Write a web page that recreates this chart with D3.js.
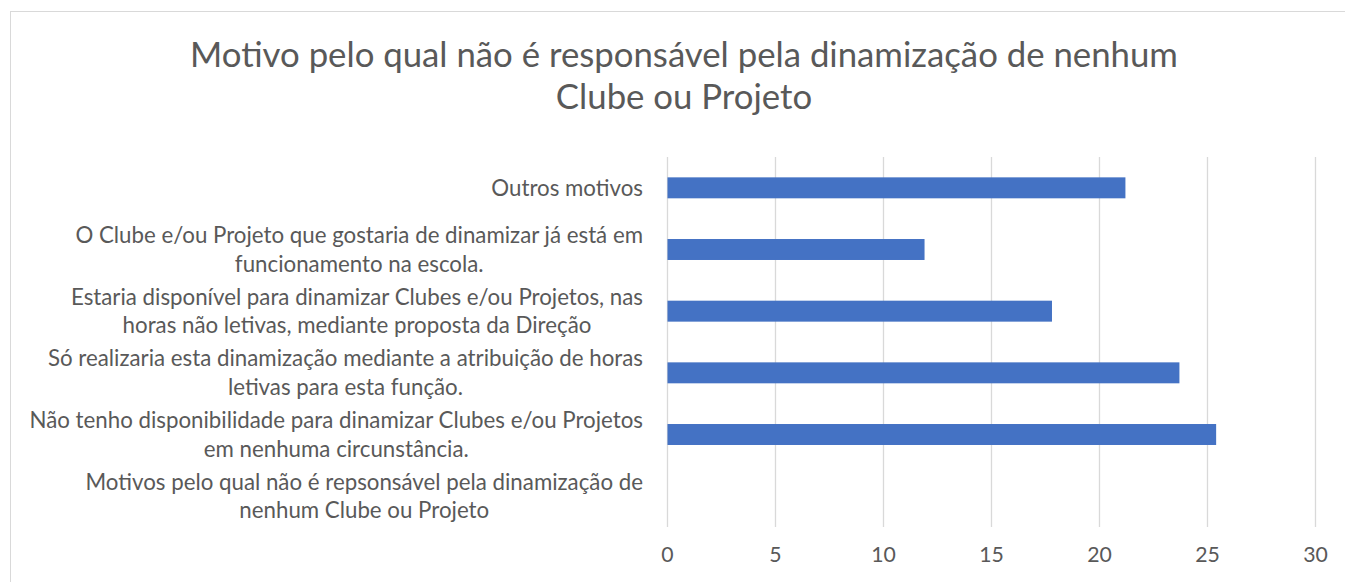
<!DOCTYPE html>
<html><head><meta charset="utf-8">
<script src="https://cdn.jsdelivr.net/npm/d3@7"></script>
<style>html,body{margin:0;padding:0;background:#fff;overflow:hidden}</style>
</head><body>
<svg id="c" width="1345" height="582"></svg>
<script>
const titleLines = ["Motivo pelo qual não é responsável pela dinamização de nenhum", "Clube ou Projeto"];
const categories = [
  ["Outros motivos"],
  ["O Clube e/ou Projeto que gostaria de dinamizar já está em", "funcionamento na escola."],
  ["Estaria disponível para dinamizar Clubes e/ou Projetos, nas", "horas não letivas, mediante proposta da Direção"],
  ["Só realizaria esta dinamização mediante a atribuição de horas", "letivas para esta função."],
  ["Não tenho disponibilidade para dinamizar Clubes e/ou Projetos", "em nenhuma circunstância."],
  ["Motivos pelo qual não é repsonsável pela dinamização de", "nenhum Clube ou Projeto"]
];
const values = [21.2, 11.9, 17.8, 23.7, 25.4, null];
const xTicks = [0, 5, 10, 15, 20, 25, 30];

const FONT = "Lato, 'Open Sans', sans-serif";
const TEXT = "#595959";
const svg = d3.select("#c");

svg.append("rect").attr("x", 10.5).attr("y", 11.5).attr("width", 1400).attr("height", 700)
  .attr("fill", "#fff").attr("stroke", "#d9d9d9").attr("stroke-width", 1);

function fitSize(str, target, base) {
  const t = svg.append("text").attr("font-family", FONT).attr("font-size", base).text(str);
  const w = t.node().getComputedTextLength();
  t.remove();
  return base * target / w;
}

// Title
const tSize = fitSize(titleLines[0], 988, 30);
svg.append("g").selectAll("text").data(titleLines).join("text")
  .attr("x", 684).attr("y", (d, i) => 67 + i * 42)
  .attr("text-anchor", "middle").attr("font-family", FONT).attr("font-size", tSize)
  .attr("fill", TEXT).text(d => d);

const x = d3.scaleLinear().domain([0, 30]).range([667, 1315]);
const y = d3.scaleBand().domain(d3.range(categories.length)).range([157, 527]).paddingInner(0.66).paddingOuter(0.33);

// gridlines
svg.append("g").selectAll("line").data(xTicks).join("line")
  .attr("x1", d => x(d) + 0.5).attr("x2", d => x(d) + 0.5)
  .attr("y1", 157).attr("y2", 527)
  .attr("stroke", "#d9d9d9").attr("stroke-width", 1.3);

// x axis labels
const axis = d3.axisBottom(x).tickValues(xTicks).tickSize(0).tickPadding(0);
const ag = svg.append("g").attr("transform", "translate(0,562)").call(axis);
ag.select(".domain").remove();
ag.selectAll("text").attr("font-family", FONT).attr("font-size", fitSize("Outros motivos", 149, 18) * 0.97)
  .attr("fill", TEXT).attr("dy", 0);

// bars
svg.append("g").selectAll("rect").data(values.map((v, i) => ({v, i})).filter(d => d.v != null)).join("rect")
  .attr("x", x(0) + 0.5).attr("y", d => y(d.i))
  .attr("width", d => x(d.v) - x(0)).attr("height", y.bandwidth())
  .attr("fill", "#4472C4");

// category labels
const lSize = fitSize(categories[1][0], 568, 18);
const lineH = 28.5;
const lg = svg.append("g");
categories.forEach((lines, i) => {
  const cy = y(i) + y.bandwidth() / 2;
  const widths = lines.map(s => {
    const t = svg.append("text").attr("font-family", FONT).attr("font-size", lSize).text(s);
    const w = t.node().getComputedTextLength(); t.remove(); return w;
  });
  const bw = d3.max(widths);
  const cx = 643 - bw / 2;
  lines.forEach((s, j) => {
    const off = (j - (lines.length - 1) / 2) * lineH;
    lg.append("text").attr("x", cx).attr("y", cy + off).attr("dy", "0.35em")
      .attr("text-anchor", "middle").attr("font-family", FONT).attr("font-size", lSize)
      .attr("fill", TEXT).text(s);
  });
});
</script>
</body></html>
